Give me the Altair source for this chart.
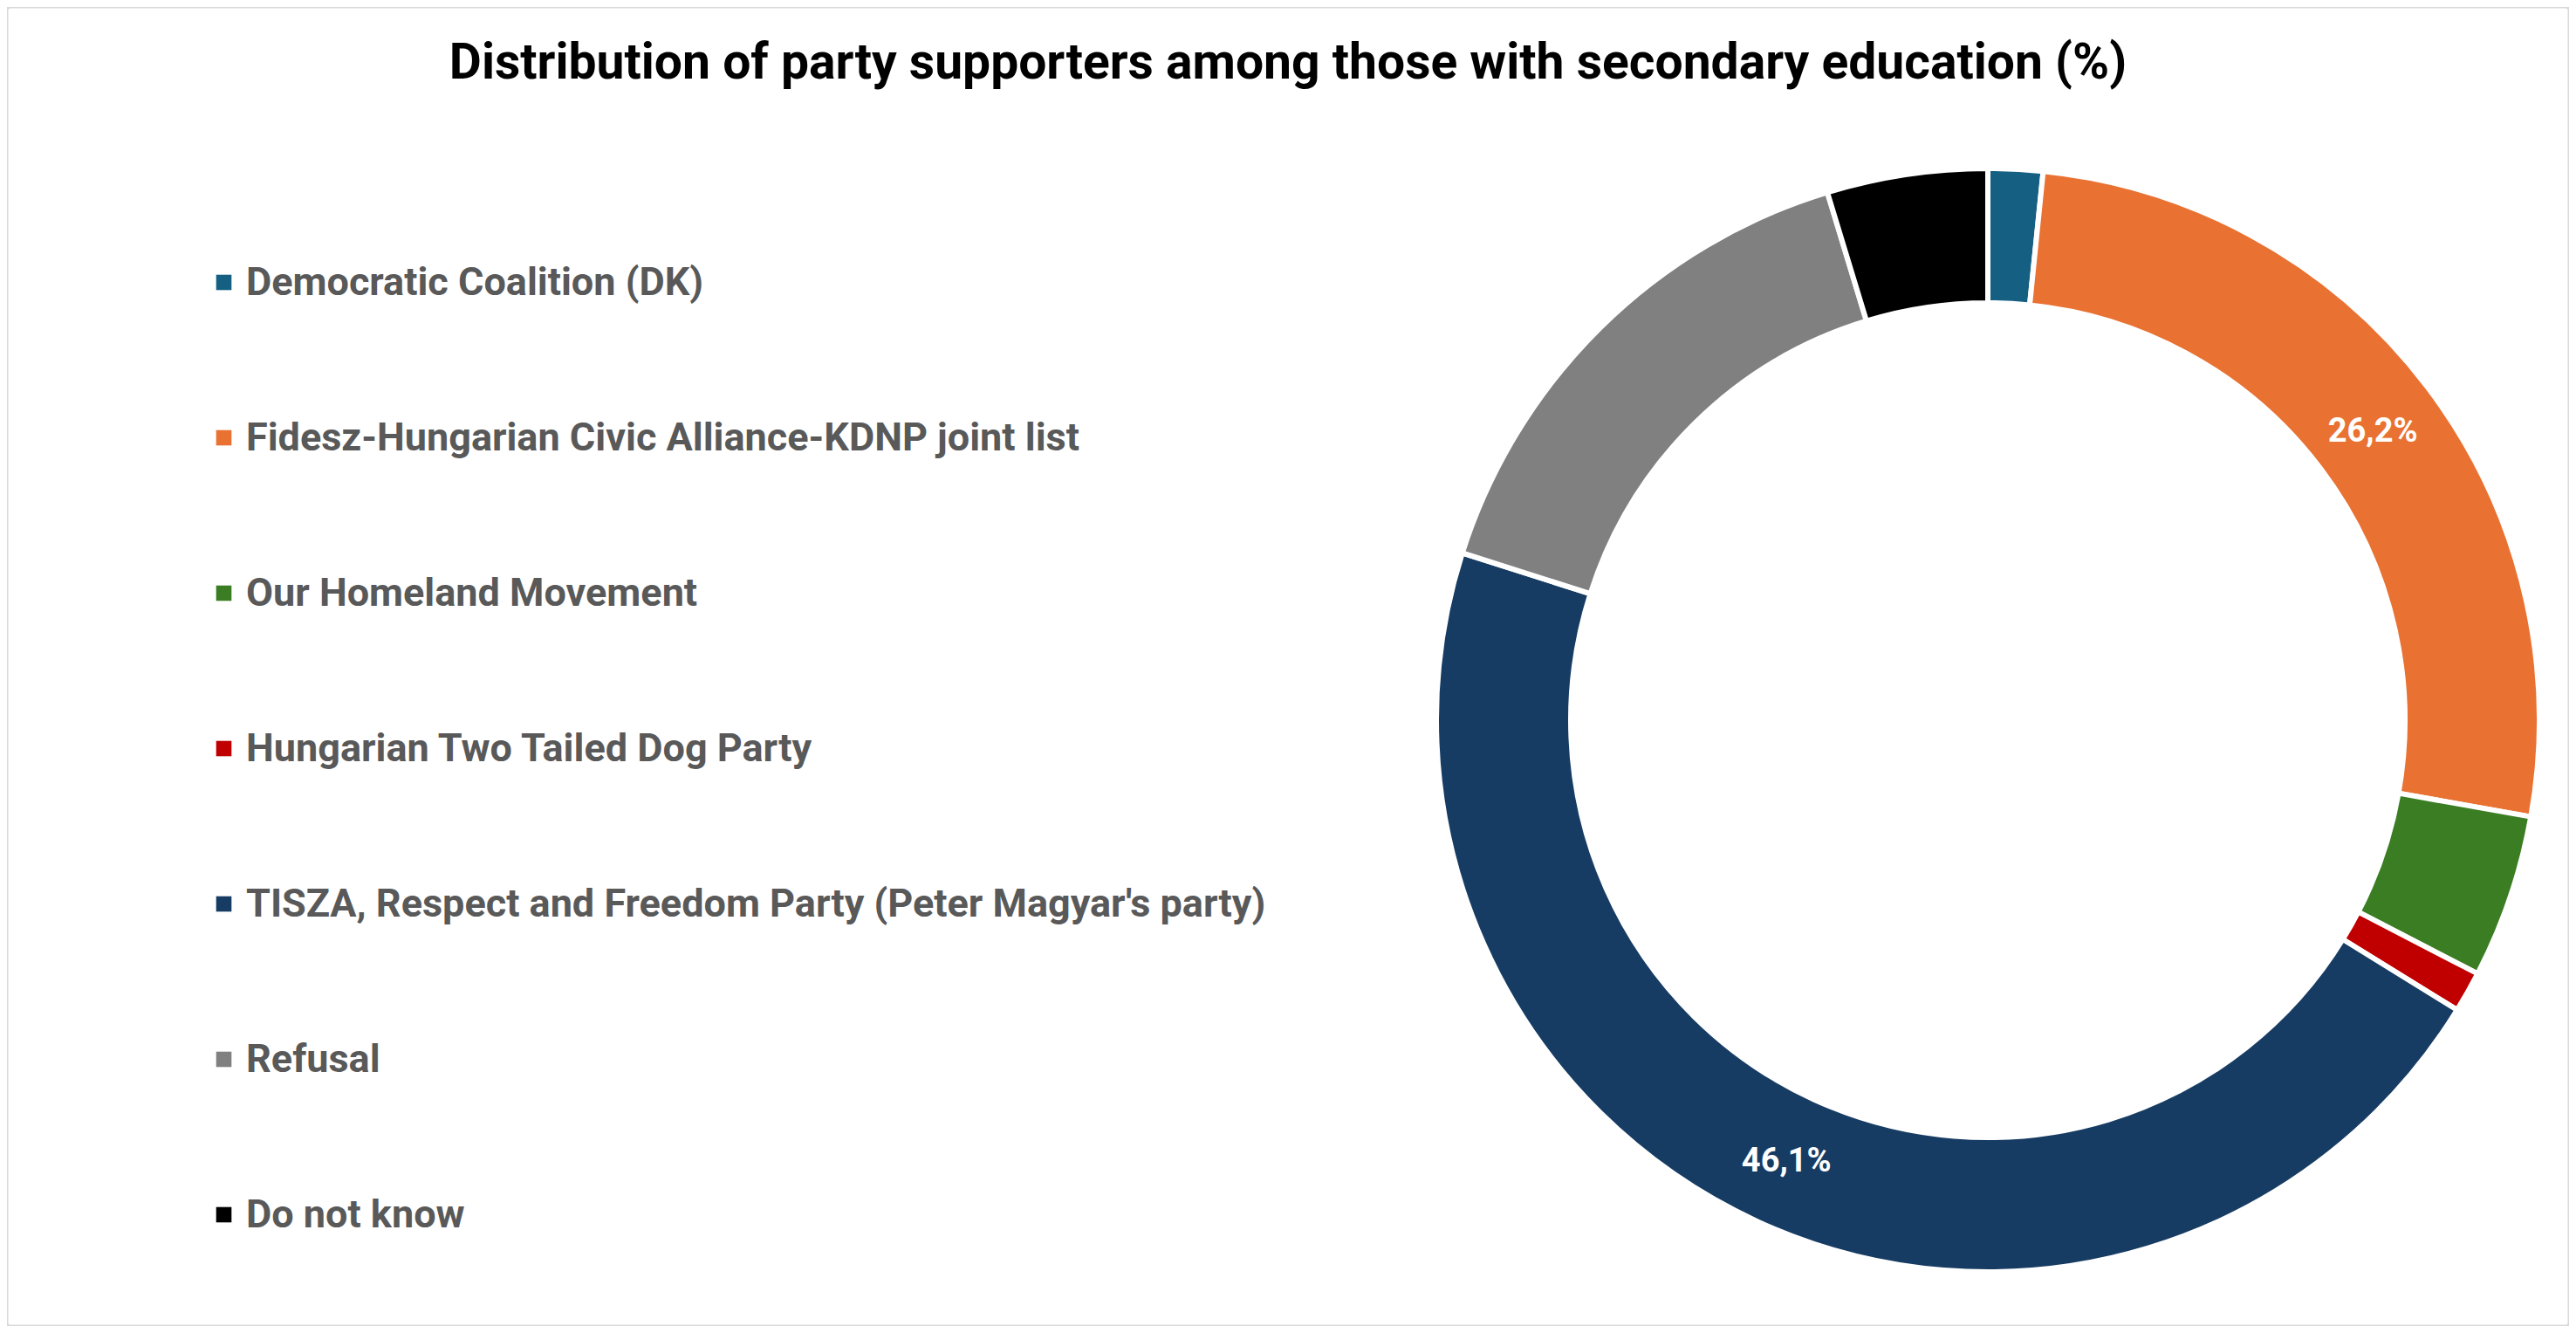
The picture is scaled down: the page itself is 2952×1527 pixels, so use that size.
import pandas as pd
import altair as alt

font = "Roboto"

parties = [
    "Democratic Coalition (DK)",
    "Fidesz-Hungarian Civic Alliance-KDNP joint list",
    "Our Homeland Movement",
    "Hungarian Two Tailed Dog Party",
    "TISZA, Respect and Freedom Party (Peter Magyar's party)",
    "Refusal",
    "Do not know",
]
shares = [1.6, 26.2, 4.8, 1.2, 46.1, 15.4, 4.7]
labels = ["", "26,2%", "", "", "46,1%", "", ""]
colors = ["#156082", "#E97132", "#3B7D23", "#C00000", "#173C63", "#808080", "#000000"]

df = pd.DataFrame({
    "party": parties,
    "share": shares,
    "label": labels,
    "order": list(range(len(parties))),
})

cx = 2270
cy = 817

base = alt.Chart(df).encode(
    theta=alt.Theta("share:Q", stack=True),
    order=alt.Order("order:Q"),
    x=alt.value(cx),
    y=alt.value(cy),
)

donut = base.mark_arc(outerRadius=632, innerRadius=478, stroke="white", strokeWidth=6).encode(
    color=alt.Color(
        "party:N",
        sort=parties,
        scale=alt.Scale(domain=parties, range=colors),
        legend=alt.Legend(
            title=None,
            orient="none",
            legendX=226,
            legendY=293,
            symbolType="square",
            symbolSize=310,
            symbolStrokeWidth=0,
            labelFont=font,
            labelFontSize=45,
            labelFontWeight="bold",
            labelColor="#595959",
            labelOffset=3,
            labelLimit=0,
            rowPadding=132,
        ),
    )
)

text = base.mark_text(
    radius=553, font=font, fontSize=38, fontWeight="bold", color="white", dy=3
).encode(text="label:N")

chart = (donut + text).properties(
    width=2936,
    height=1511,
    padding=0,
    autosize=alt.AutoSizeParams(type="none"),
    title=alt.TitleParams(
        "Distribution of party supporters among those with secondary education (%)",
        font=font,
        fontSize=57,
        fontWeight="bold",
        color="black",
        anchor="middle",
        baseline="alphabetic",
        offset=0,
        dy=139,
    ),
).configure_view(stroke="#D9D9D9", strokeWidth=3, cornerRadius=4)

chart.save("out.html", embed_options={"renderer": "svg", "actions": False})
